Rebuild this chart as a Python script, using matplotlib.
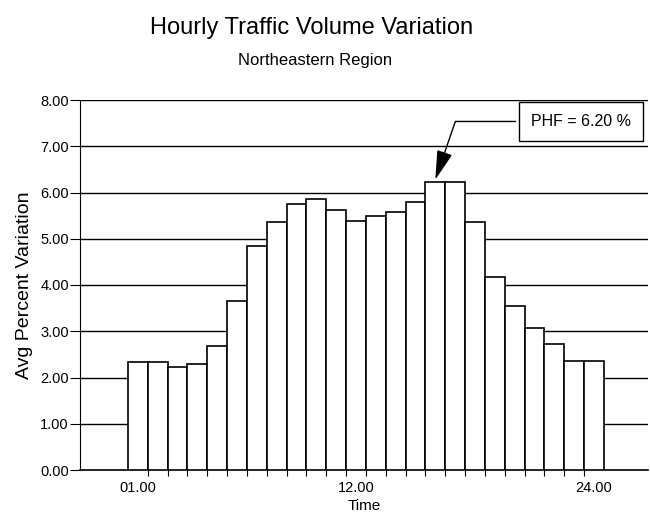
import numpy as np
import matplotlib
matplotlib.use("Agg")
import matplotlib.pyplot as plt

plt.rcParams['font.family'] = ['Liberation Sans Narrow', 'Liberation Sans', 'DejaVu Sans']

# hourly share of daily traffic (%), hours 1..24
hours = list(range(1, 25))
pct = [2.33, 2.33, 2.22, 2.30, 2.69, 3.66, 4.84, 5.37, 5.76, 5.85, 5.63, 5.39,
       5.49, 5.58, 5.80, 6.22, 6.22, 5.36, 4.17, 3.54, 3.08, 2.72, 2.35, 2.35]
label_hours = [1, 12, 24]
label_text = ['01.00', '12.00', '24.00']
yticks = [0, 1, 2, 3, 4, 5, 6, 7, 8]
phf = 6.20
peak_hour = 16

fig = plt.figure(figsize=(6.5, 5.19), dpi=100)
ax = fig.add_axes([80/650, 49/519, 568/650, 370/519])

x = np.arange(len(hours))
ax.bar(x, pct, width=1.0, color='white', edgecolor='black', linewidth=1.2, zorder=3)

for v in yticks[1:]:
    ax.axhline(v, color='black', linewidth=1.0, zorder=1)

ax.set_xlim(-2.92, 25.72)
ax.set_ylim(0, 8)
ax.set_yticks(yticks)
ax.set_yticklabels(['%.2f' % v for v in yticks], fontsize=10.5)

ax.set_xticks([hours.index(h) for h in label_hours])
ax.set_xticklabels(label_text, fontsize=10.5)
ax.set_xticks(x[:-1] + 0.5, minor=True)
ax.tick_params(axis='x', which='major', length=0, pad=8)
ax.tick_params(axis='x', which='minor', length=4, width=0.8)
ax.tick_params(axis='y', length=7, width=0.8, pad=1)

for s in ['top', 'right']:
    ax.spines[s].set_visible(False)
ax.spines['left'].set_linewidth(0.8)
ax.spines['bottom'].set_linewidth(1.2)

ax.set_ylabel('Avg Percent Variation', fontsize=14, labelpad=5)
ax.set_xlabel('Time', fontsize=11, labelpad=3)

pk = hours.index(peak_hour) - 0.05
ax.annotate('PHF = %.2f %%' % phf, xy=(pk, pct[hours.index(peak_hour)]),
            xytext=(0.882, 0.942), textcoords='axes fraction',
            ha='center', va='center', fontsize=11.5, zorder=5,
            bbox=dict(boxstyle='square,pad=0.75', fc='white', ec='black', lw=1.0),
            arrowprops=dict(arrowstyle='-|>,head_length=1.3,head_width=0.35',
                            connectionstyle='angle,angleA=0,angleB=71,rad=0',
                            color='black', lw=1.0, mutation_scale=14))

fig.text(0.48, 0.946, 'Hourly Traffic Volume Variation', ha='center', va='center', fontsize=17)
fig.text(0.485, 0.883, 'Northeastern Region', ha='center', va='center', fontsize=12)

fig.savefig('out.png', dpi=100)
